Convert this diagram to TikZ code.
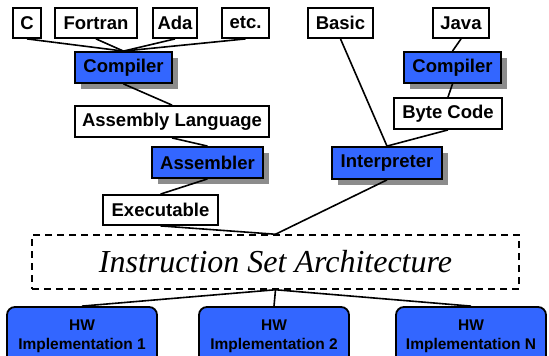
\documentclass[tikz,border=0pt]{standalone}
\usepackage{fontspec}
\setmainfont{Liberation Sans}
\newfontfamily\isafont{Liberation Serif}
\usetikzlibrary{shadows}
\definecolor{toolblue}{RGB}{51,102,255}
\definecolor{shadowgray}{RGB}{140,140,140}
\tikzset{
  langbox/.style={draw=black, line width=1.8pt, fill=white, inner sep=0pt,
    font=\fontsize{18.5}{20}\selectfont\bfseries, anchor=center},
  toolbox/.style={langbox, fill=toolblue,
    drop shadow={shadow xshift=6pt, shadow yshift=-6pt, fill=shadowgray, opacity=1}},
  hwbox/.style={draw=black, line width=1.8pt, fill=toolblue, rounded corners=8pt,
    inner sep=0pt, align=center, font=\fontsize{15.5}{19}\selectfont\bfseries,
    minimum width=150pt, minimum height=59pt},
  isabox/.style={draw=black, line width=1.5pt, dash pattern=on 7pt off 5pt,
    minimum width=487pt, minimum height=54pt, inner sep=0pt,
    font=\fontsize{32}{34}\selectfont\isafont\itshape},
  link/.style={draw=black, line width=1.6pt},
}
\begin{document}
\begin{tikzpicture}[x=1pt,y=-1pt]
\useasboundingbox (0,0) rectangle (549,356);
\begin{scope}
\clip (0,0) rectangle (549,356);

% source languages
\node[langbox, minimum width=28pt, minimum height=30pt] (c) at (27,23) {C};
\node[langbox, minimum width=82pt, minimum height=30pt] (fortran) at (96,23) {Fortran};
\node[langbox, minimum width=44pt, minimum height=30pt] (ada) at (175,23) {Ada};
\node[langbox, minimum width=47pt, minimum height=30pt] (etc) at (245.5,23) {etc.};
\node[langbox, minimum width=65pt, minimum height=30pt] (basic) at (340.5,23) {Basic};
\node[langbox, minimum width=56pt, minimum height=30pt] (java) at (461,23) {Java};

% translation tools and intermediate forms
\node[toolbox, minimum width=97pt, minimum height=31pt] (compL) at (123.5,67.5) {Compiler};
\node[toolbox, minimum width=97pt, minimum height=31pt] (compR) at (452.5,67.5) {Compiler};
\node[langbox, minimum width=194pt, minimum height=31pt] (asm) at (172,121.5) {Assembly Language};
\node[langbox, minimum width=108pt, minimum height=31pt] (byte) at (448,113.5) {Byte Code};
\node[toolbox, minimum width=111pt, minimum height=31pt] (assembler) at (207.5,162.5) {Assembler};
\node[toolbox, minimum width=110pt, minimum height=32pt] (interp) at (387,163) {Interpreter};
\node[langbox, minimum width=115pt, minimum height=30pt] (exe) at (160.5,210) {Executable};

% architecture layer
\node[isabox] (isa) at (275.5,262) {Instruction Set Architecture};

% hardware implementations
\node[hwbox] (hw1) at (82,336.5) {HW\\Implementation 1};
\node[hwbox] (hw2) at (274,336.5) {HW\\Implementation 2};
\node[hwbox] (hwn) at (471,336.5) {HW\\Implementation N};

% connectors
\path[link] (c.south) -- (compL.north);
\path[link] (fortran.south) -- (compL.north);
\path[link] (ada.south) -- (compL.north);
\path[link] (etc.south) -- (compL.north);
\path[link] (compL.south) -- (asm.north);
\path[link] (asm.south) -- (assembler.north);
\path[link] (assembler.south) -- (exe.north);
\path[link] (exe.south) -- (isa.north);
\path[link] (java.south) -- (compR.north);
\path[link] (compR.south) -- (byte.north);
\path[link] (basic.south) -- (interp.north);
\path[link] (byte.south) -- (interp.north);
\path[link] (interp.south) -- (isa.north);
\path[link] (isa.south) -- (hw1.north);
\path[link] (isa.south) -- (hw2.north);
\path[link] (isa.south) -- (hwn.north);
\end{scope}
\end{tikzpicture}
\end{document}
